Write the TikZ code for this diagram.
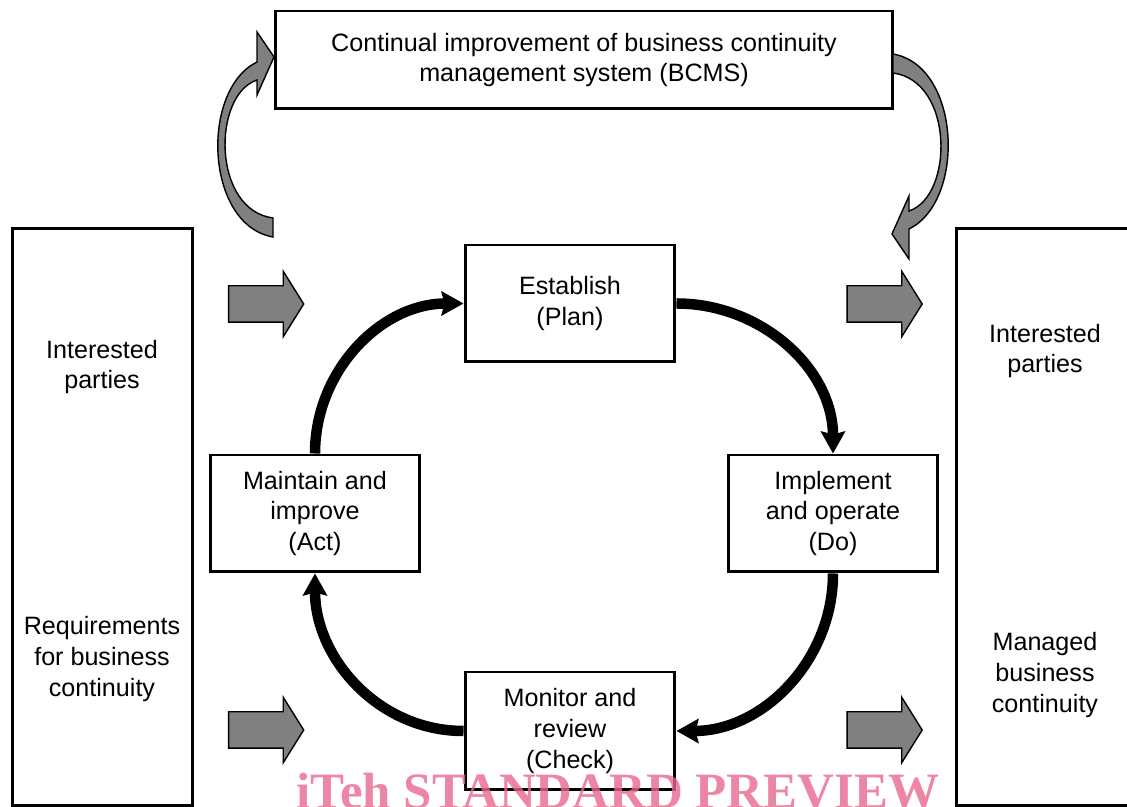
\documentclass[tikz,border=0pt]{standalone}
\usepackage{fontspec}
\setmainfont{Liberation Sans}
\newfontfamily\wmfont{Liberation Serif}
\usetikzlibrary{arrows.meta,shapes.arrows}
\definecolor{arrowgray}{RGB}{128,128,128}
\definecolor{wmpink}{RGB}{232,102,142}
\tikzset{
	stage/.style={draw, line width=1.7pt, minimum width=4.2cm, minimum height=2.34cm, align=center},
	column/.style={draw, line width=1.7pt, minimum height=11.56cm},
	coltext/.style={align=center},
	flow/.style={single arrow, draw, fill=arrowgray, line width=0.8pt, minimum height=1.5cm,
			inner xsep=0pt, inner ysep=0.35cm, single arrow head extend=0.29cm, single arrow tip angle=116},
	pdca/.style={line width=0.21cm, -{Stealth[length=0.44cm, width=0.48cm, inset=0.06cm]}},
	pics/bendarrow/.style={
			code={\draw[fill=arrowgray, line width=0.8pt] (0,0) .. controls (-68,12) and (-73,147) .. (-16,175)
					-- (-16,205) -- (1,180) -- (-16,142) -- (-16,157) .. controls (-61,142) and (-61,27) .. (0,19) -- cycle;}
		}
}

\begin{document}
\begin{tikzpicture}[x=0.02cm, y=0.02cm, font=\fontsize{14.3}{17.6}\selectfont]
    \useasboundingbox (0,0) rectangle (1127,807);
    \clip (0,0) rectangle (1127,807);

    \node[draw, line width=1.7pt, minimum width=12.36cm, minimum height=1.96cm, align=center] (bcms) at (584,747)
        {Continual improvement of business continuity\\management system (BCMS)};

    \node[column, minimum width=3.62cm] (inputs) at (102.5,290) {};
    \node[column, minimum width=3.56cm] (outputs) at (1045,290) {};

    \node[coltext] (inparties) at (102,440) {Interested\\parties};
    \node[coltext] (inreq) at (102,148) {Requirements\\for business\\continuity};
    \node[coltext] (outparties) at (1045,456) {Interested\\parties};
    \node[coltext] (outmanaged) at (1045,132) {Managed\\business\\continuity};

    \node[stage] (plan) at (570,503.5) {Establish\\(Plan)};
    \node[stage] (do) at (833,293.5) {Implement\\and operate\\(Do)};
    \node[stage] (act) at (315,293.5) {Maintain and\\improve\\(Act)};
    \node[stage, minimum height=2.36cm] (check) at (570,76) {Monitor and\\review\\(Check)};

    \draw[pdca] (act.north) to[out=90, in=180] (plan.west);
    \draw[pdca] (plan.east) to[out=0, in=90] (do.north);
    \draw[pdca] (do.south) to[out=270, in=0] (check.east);
    \draw[pdca] (check.west) to[out=180, in=270] (act.south);

    \node[flow] (inup) at (260.5,503) {};
    \node[flow] (indown) at (260.5,77) {};
    \node[flow] (outup) at (879,503) {};
    \node[flow] (outdown) at (879,77) {};

    \pic at (273,570) {bendarrow};
    \pic[rotate=180] at (893,753) {bendarrow};

    \node[anchor=base, text=wmpink, text opacity=0.8, font=\wmfont\bfseries\fontsize{29}{30}\selectfont] (preview) at (618,-2)
        {iTeh STANDARD PREVIEW};
\end{tikzpicture}
\end{document}
